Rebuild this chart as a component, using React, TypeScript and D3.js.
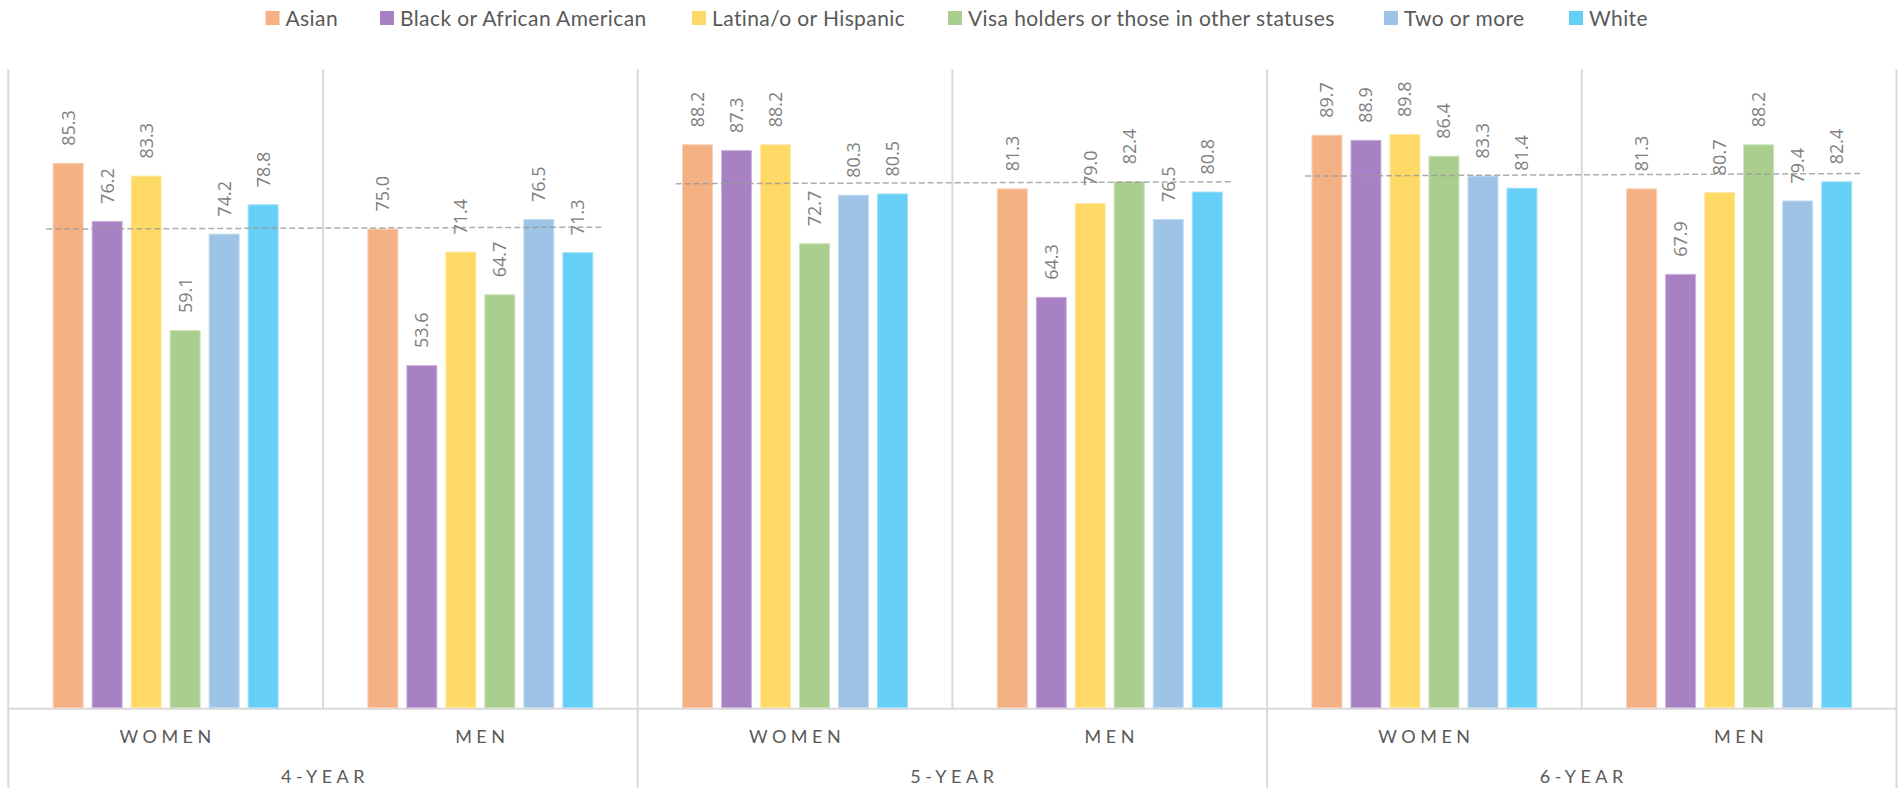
import React from 'react';
import * as d3 from 'd3';

const seriesNames = [
  'Asian',
  'Black or African American',
  'Latina/o or Hispanic',
  'Visa holders or those in other statuses',
  'Two or more',
  'White',
];
const seriesColors = ['#F4B183', '#A881C4', '#FFD966', '#A9CE8E', '#9DC3E6', '#66CFF5'];

const years = ['4-YEAR', '5-YEAR', '6-YEAR'];
const genders = ['WOMEN', 'MEN'];

// order: 4yr women, 4yr men, 5yr women, 5yr men, 6yr women, 6yr men
const asian = [85.3, 75.0, 88.2, 81.3, 89.7, 81.3];
const black = [76.2, 53.6, 87.3, 64.3, 88.9, 67.9];
const latina = [83.3, 71.4, 88.2, 79.0, 89.8, 80.7];
const visa = [59.1, 64.7, 72.7, 82.4, 86.4, 88.2];
const twoOrMore = [74.2, 76.5, 80.3, 76.5, 83.3, 79.4];
const white = [78.8, 71.3, 80.5, 80.8, 81.4, 82.4];
const seriesValues = [asian, black, latina, visa, twoOrMore, white];

// dashed reference lines per year group (value at left end, value at right end)
const refStart = [75.0, 82.1, 83.3];
const refEnd = [75.3, 82.4, 83.7];

const W = 1900;
const H = 788;
const plotLeft = 8.3;
const plotRight = 1896.5;
const plotTop = 69.5;
const plotBottom = 707.7;
const legendX = [265.5, 380, 692, 948, 1384, 1569];

const gridColor = '#D9D9D9';
const labelFont = "'Open Sans', 'DejaVu Sans', sans-serif";
const axisFont = "Lato, 'Liberation Sans', sans-serif";

export default function App() {
  const cats = d3.range(6);
  const x0 = d3.scaleBand<number>().domain(cats).range([plotLeft, plotRight]).padding(0);
  const x1 = d3
    .scaleBand<number>()
    .domain(d3.range(seriesNames.length))
    .range([0, x0.bandwidth()])
    .paddingInner(0.2308)
    .paddingOuter(1.15);
  const y = d3.scaleLinear().domain([0, 100]).range([plotBottom, plotTop]);
  const yearBand = d3.scaleBand<number>().domain(d3.range(3)).range([plotLeft, plotRight]).padding(0);

  return (
    <svg
      width={W}
      height={H}
      style={{ position: 'absolute', left: 0, top: 0, display: 'block', background: '#fff' }}
    >
      {/* legend */}
      {seriesNames.map((name, i) => (
        <g key={name} transform={`translate(${legendX[i]},0)`}>
          <rect x={0} y={11} width={14} height={14} fill={seriesColors[i]} />
          <text
            x={20}
            y={25.5}
            fontFamily={axisFont}
            fontSize={21}
            letterSpacing={0.4}
            fill="#595959"
          >
            {name}
          </text>
        </g>
      ))}

      {/* vertical grid/category separators in plot */}
      {d3.range(7).map((i) => {
        const xx = i < 6 ? (x0(i) as number) : plotRight;
        const isYear = i % 2 === 0;
        return (
          <line
            key={'v' + i}
            x1={xx}
            x2={xx}
            y1={plotTop}
            y2={isYear ? H : plotBottom + 1}
            stroke={gridColor}
            strokeWidth={2}
          />
        );
      })}
      {/* baseline */}
      <line x1={plotLeft} x2={plotRight} y1={plotBottom + 1} y2={plotBottom + 1} stroke={gridColor} strokeWidth={2} />

      {/* bars */}
      {cats.map((c) => (
        <g key={'c' + c} transform={`translate(${x0(c)},0)`}>
          {seriesValues.map((vals, s) => {
            const v = vals[c];
            const bx = x1(s) as number;
            const bw = x1.bandwidth();
            return (
              <g key={'b' + s}>
                <rect
                  x={bx}
                  y={y(v)}
                  width={bw}
                  height={plotBottom - y(v)}
                  fill={seriesColors[s]}
                  stroke={d3.interpolateRgb(seriesColors[s], '#ffffff')(0.4)}
                  strokeWidth={1}
                />
                <text
                  transform={`translate(${bx + bw / 2},${y(v) - 17.5}) rotate(-90)`}
                  dy="0.36em"
                  fontFamily={labelFont}
                  fontSize={18}
                  fill="#7F7F7F"
                  textAnchor="start"
                >
                  {v.toFixed(1)}
                </text>
              </g>
            );
          })}
        </g>
      ))}

      {/* dashed reference lines */}
      {years.map((yr, i) => {
        const gx = yearBand(i) as number;
        return (
          <line
            key={'r' + yr}
            x1={gx + 38}
            x2={gx + 595}
            y1={y(refStart[i])}
            y2={y(refEnd[i])}
            stroke="#999999"
            strokeOpacity={0.8}
            strokeWidth={1.5}
            strokeDasharray="6 3"
          />
        );
      })}

      {/* category labels */}
      {cats.map((c) => (
        <text
          key={'g' + c}
          x={(x0(c) as number) + x0.bandwidth() / 2 + 2}
          y={742.7}
          textAnchor="middle"
          fontFamily={axisFont}
          fontSize={18}
          letterSpacing={4.5}
          fill="#595959"
        >
          {genders[c % 2]}
        </text>
      ))}
      {years.map((yr, i) => (
        <text
          key={'y' + yr}
          x={(yearBand(i) as number) + yearBand.bandwidth() / 2 + 2}
          y={783}
          textAnchor="middle"
          fontFamily={axisFont}
          fontSize={18}
          letterSpacing={4.5}
          fill="#595959"
        >
          {yr}
        </text>
      ))}
    </svg>
  );
}
